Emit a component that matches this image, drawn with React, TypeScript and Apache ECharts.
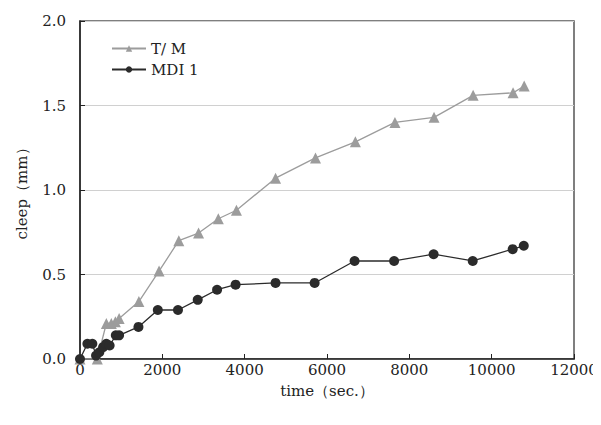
import React, { useEffect, useRef } from "react";
import * as echarts from "echarts";

const xTicks = [0, 2000, 4000, 6000, 8000, 10000, 12000];
const yTicks = ["0.0", "0.5", "1.0", "1.5", "2.0"];

const tmName = "T/ M";
const tmX = [0, 420, 640, 760, 860, 950, 1430, 1920, 2400, 2880, 3360, 3800, 4750, 5720, 6690, 7650, 8600, 9550, 10520, 10790];
const tmY = [0, 0, 0.21, 0.21, 0.22, 0.24, 0.34, 0.52, 0.70, 0.745, 0.83, 0.88, 1.07, 1.19, 1.285, 1.40, 1.43, 1.56, 1.575, 1.615];

const mdiName = "MDI 1";
const mdiX = [0, 180, 300, 390, 470, 560, 640, 720, 870, 950, 1420, 1890, 2380, 2860, 3330, 3780, 4750, 5700, 6670, 7630, 8590, 9540, 10510, 10780];
const mdiY = [0, 0.09, 0.09, 0.02, 0.04, 0.07, 0.09, 0.08, 0.14, 0.14, 0.19, 0.29, 0.29, 0.35, 0.41, 0.44, 0.45, 0.45, 0.58, 0.58, 0.62, 0.58, 0.65, 0.67];

const FONT = "DejaVu Serif";

export default function App() {
  const ref = useRef<HTMLDivElement>(null);
  useEffect(() => {
    if (!ref.current) return;
    const chart = echarts.init(ref.current, undefined, { renderer: "svg" });
    chart.setOption({
      animation: false,
      backgroundColor: "#fff",
      textStyle: { fontFamily: FONT },
      grid: {
        left: 80,
        right: 27,
        top: 21,
        bottom: 66,
        show: true,
        borderColor: "#555",
        borderWidth: 1.5,
      },
      legend: {
        orient: "vertical",
        left: 106,
        top: 36,
        itemWidth: 34,
        itemHeight: 8,
        itemGap: 6,
        textStyle: { fontFamily: FONT, fontSize: 15, color: "#222" },
        data: [tmName, mdiName],
      },
      xAxis: {
        type: "value",
        min: 0,
        max: 12000,
        interval: 2000,
        name: "time（sec.）",
        nameLocation: "middle",
        nameGap: 24,
        nameTextStyle: { fontFamily: FONT, fontSize: 15, color: "#222" },
        axisLine: { lineStyle: { color: "#222", width: 1.5 } },
        axisTick: { inside: true, length: 5, lineStyle: { color: "#222" } },
        axisLabel: {
          fontFamily: FONT,
          fontSize: 15,
          color: "#222",
          margin: 3,
          formatter: (v: number) => (xTicks.includes(v) ? String(v) : ""),
        },
        splitLine: { show: false },
      },
      yAxis: {
        type: "value",
        min: 0,
        max: 2,
        interval: 0.5,
        name: "cleep（mm）",
        nameLocation: "middle",
        nameGap: 51,
        nameTextStyle: { fontFamily: FONT, fontSize: 15, color: "#222" },
        axisLine: { show: true, lineStyle: { color: "#222", width: 1.5 } },
        axisTick: { show: true, inside: true, length: 5, lineStyle: { color: "#222" } },
        axisLabel: {
          fontFamily: FONT,
          fontSize: 15,
          color: "#222",
          margin: 14,
          formatter: (v: number) => yTicks[Math.round(v / 0.5)] ?? "",
        },
        splitLine: { show: true, lineStyle: { color: "#d0d0d0", width: 1 } },
      },
      series: [
        {
          name: tmName,
          type: "line",
          data: tmX.map((x, i) => [x, tmY[i]]),
          symbol: "triangle",
          symbolSize: 11,
          itemStyle: { color: "#9c9c9c" },
          lineStyle: { color: "#9c9c9c", width: 1.3 },
        },
        {
          name: mdiName,
          type: "line",
          data: mdiX.map((x, i) => [x, mdiY[i]]),
          symbol: "circle",
          symbolSize: 10,
          itemStyle: { color: "#2b2b2b" },
          lineStyle: { color: "#2b2b2b", width: 1.3 },
        },
      ],
    });
    return () => chart.dispose();
  }, []);
  return <div ref={ref} style={{ width: 601, height: 425, margin: -8 }} />;
}
